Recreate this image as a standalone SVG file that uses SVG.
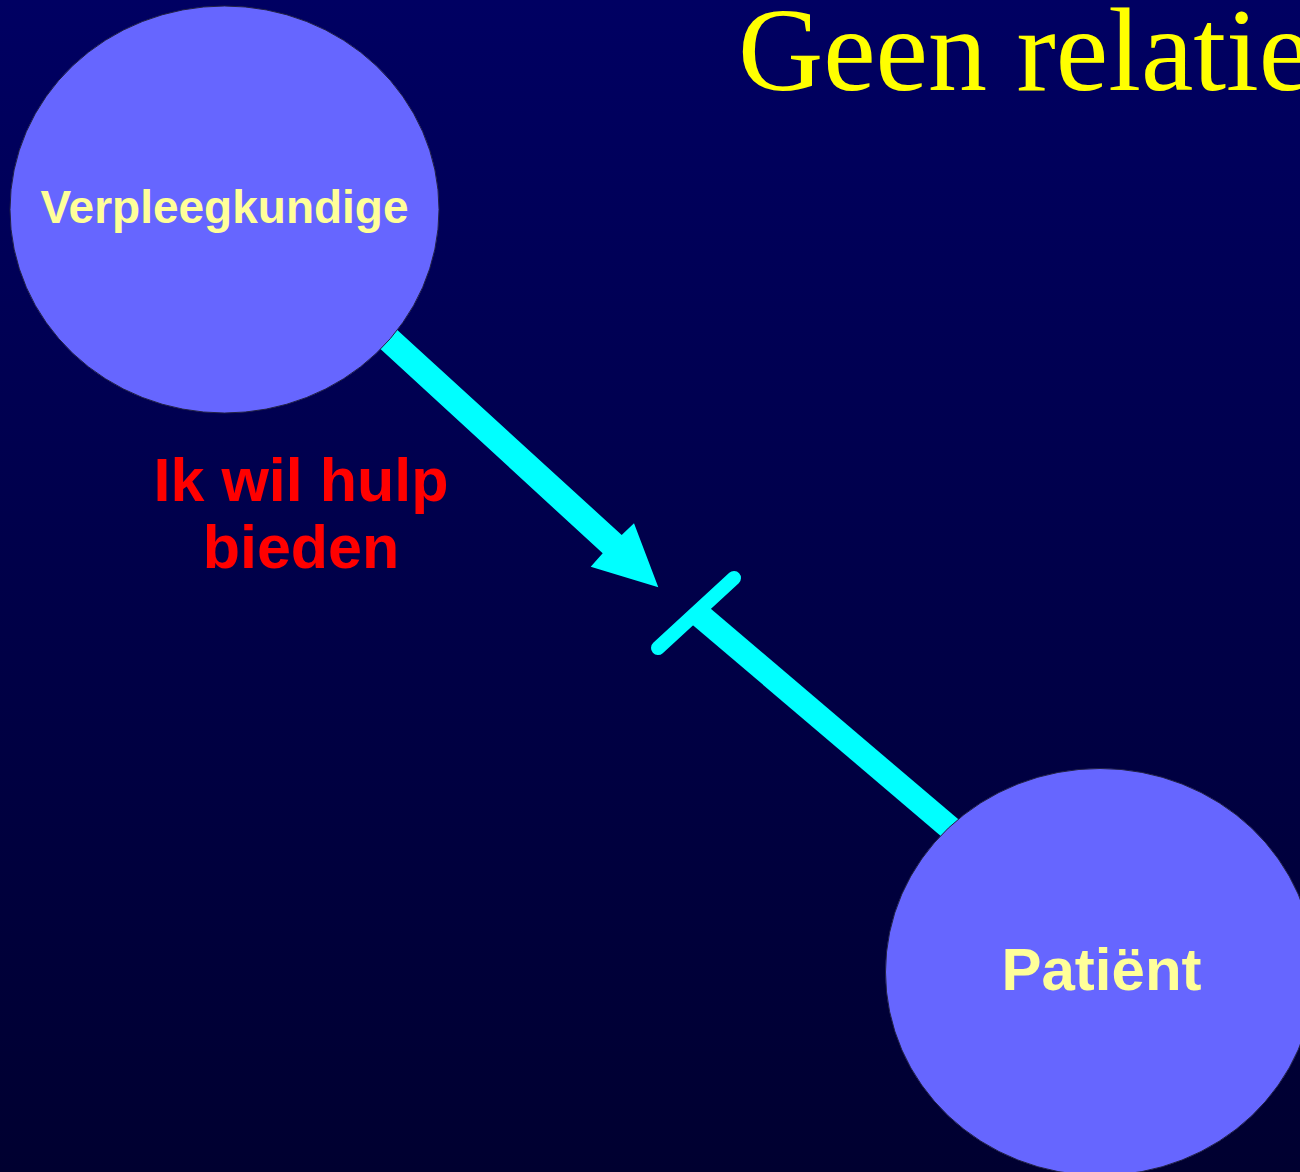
<svg xmlns="http://www.w3.org/2000/svg" width="1300" height="1172" viewBox="0 0 1300 1172">
<defs>
<linearGradient id="bg" x1="0" y1="0" x2="0" y2="1">
<stop offset="0" stop-color="#000062"/>
<stop offset="1" stop-color="#000030"/>
</linearGradient>
</defs>
<style>
.node{fill:#6666FF;stroke:#222244;stroke-width:1}
.nlabel{font-family:"Liberation Sans",Arial,sans-serif;font-weight:bold;fill:#FFFF99;text-anchor:middle}
.conn{fill:#00FFFF;stroke:none}
.line{stroke:#00FFFF;fill:none}
.elabel{font-family:"Liberation Sans",Arial,sans-serif;font-weight:bold;fill:#FF0000;font-size:61px;text-anchor:middle}
.title{font-family:"Liberation Serif","Times New Roman",serif;fill:#FFFF00;font-size:118px}
</style>
<rect x="0" y="0" width="1300" height="1172" fill="url(#bg)"/>
<text class="title" x="738" y="90">Geen relatie</text>
<g id="connectors">
<polygon class="conn" points="377,311.5 621.7,535 634,523.3 658.3,587.3 590.7,566.7 602.7,553.3 359.5,329.8"/>
<line class="line" x1="696" y1="612" x2="970" y2="845" stroke-width="24"/>
<line class="line" x1="658" y1="648" x2="734" y2="578" stroke-width="14" stroke-linecap="round"/>
</g>
<g id="label-hulp">
<text class="elabel" x="301" y="501">Ik wil hulp</text>
<text class="elabel" x="301" y="568">bieden</text>
</g>
<g id="node-verpleegkundige">
<ellipse class="node" cx="224.5" cy="209.5" rx="214.5" ry="203.5"/>
<text class="nlabel" x="224.5" y="222.5" font-size="46">Verpleegkundige</text>
</g>
<g id="node-patient">
<ellipse class="node" cx="1100" cy="972" rx="214.5" ry="203.5"/>
<text class="nlabel" x="1101.5" y="990" font-size="60">Patiënt</text>
</g>
</svg>
